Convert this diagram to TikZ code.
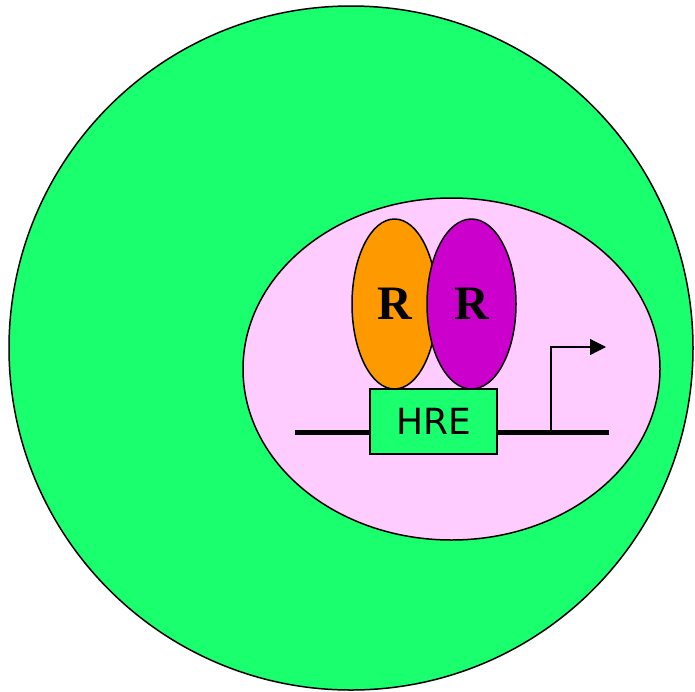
\documentclass[tikz,border=0pt]{standalone}
\usepackage{fontspec}
\usetikzlibrary{shapes.geometric,arrows.meta}
\newfontfamily\hrefont{DejaVu Sans}
\newfontfamily\rfont{Liberation Serif}
\definecolor{cellgreen}{RGB}{26,255,110}
\definecolor{nucpink}{RGB}{255,204,255}
\definecolor{recorange}{RGB}{255,153,0}
\definecolor{recmag}{RGB}{204,0,204}
\tikzset{
  outl/.style={draw=black, line width=1.5pt},
  receptor/.style={ellipse, outl, inner sep=0pt, font=\rfont\bfseries\fontsize{48}{48}\selectfont},
  dna/.style={line width=5pt},
}
\begin{document}
\begin{tikzpicture}[x=1pt,y=-1pt]
\useasboundingbox (0,0) rectangle (695,691);
\node[circle, outl, fill=cellgreen, minimum size=684pt, inner sep=0pt] (cell) at (351,348) {};
\node[ellipse, outl, fill=nucpink, minimum width=417pt, minimum height=342pt, inner sep=0pt] (nucleus) at (451.5,369) {};
\coordinate (dnaL) at (295,432);
\coordinate (dnaR) at (609,432);
\coordinate (tss) at (551,432);
\coordinate (arrowend) at (606,347);
\node[draw=black, line width=1.5pt, fill=cellgreen, minimum width=127pt, minimum height=65pt, inner sep=0pt, font=\hrefont\fontsize{36}{36}\selectfont] (hre) at (433.5,421.5) {HRE};
\draw[dna] (dnaL) -- (hre.west |- dnaL);
\draw[dna] (hre.east |- dnaR) -- (dnaR);
\draw[line width=1.2pt, -{Triangle[length=16pt,width=16pt]}] (tss) |- (arrowend);
\node[receptor, fill=recorange, minimum width=85pt, minimum height=170pt] (r1) at (394.5,304) {R};
\node[receptor, fill=recmag, minimum width=89pt, minimum height=170pt] (r2) at (471.5,304) {R};
\end{tikzpicture}
\end{document}
